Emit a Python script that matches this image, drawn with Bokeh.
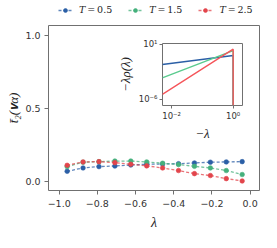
from bokeh.plotting import figure
from bokeh.models import (Legend, LegendItem, FixedTicker, Range1d)
from bokeh.layouts import column
from bokeh.embed import file_html
from bokeh.resources import INLINE

# ---- data (main panel) ----
lam = [-0.9583, -0.875, -0.7917, -0.7083, -0.625, -0.5417,
       -0.4583, -0.375, -0.2917, -0.2083, -0.125, -0.0417]
t2_T05 = [0.070, 0.093, 0.102, 0.106, 0.113, 0.118,
          0.120, 0.122, 0.127, 0.132, 0.134, 0.136]
t2_T15 = [0.102, 0.132, 0.136, 0.140, 0.140, 0.134,
          0.125, 0.116, 0.104, 0.093, 0.075, 0.048]
t2_T25 = [0.111, 0.134, 0.136, 0.129, 0.118, 0.107,
          0.093, 0.075, 0.054, 0.041, 0.020, 0.004]
series_labels = ["𝑇\u2009=\u20090.5", "𝑇\u2009=\u20091.5", "𝑇\u2009=\u20092.5"]
colors = ["#2b5fa6", "#45b07c", "#e2454c"]
inset_colors = ["#2b5fa6", "#5acb8e", "#f5555a"]

xtick_vals = [-1.0, -0.8, -0.6, -0.4, -0.2, 0.0]
xtick_labels = ["−1.0", "−0.8", "−0.6", "−0.4", "−0.2", "0.0"]
ytick_vals = [0.0, 0.5, 1.0]
ytick_labels = ["0.0", "0.5", "1.0"]

# ---- data (inset) ----
neg_lam = [0.005, 1.0, 1.0]
rho_T05 = [0.0257, 0.363, 1e-9]
rho_T15 = [5.2e-4, 1.48, 1e-9]
rho_T25 = [4.1e-6, 2.29, 1e-9]
inset_xtick_vals = [0.01, 1.0]
inset_xtick_labels = ["10⁻²", "10⁰"]
inset_ytick_vals = [1e-6, 10.0]
inset_ytick_labels = ["10⁻⁶", "10¹"]

TICK_COL = "#333333"
SPINE = "#707070"

# ---- legend strip (its own small figure, on top) ----
lg = figure(width=265, height=18, output_backend="svg", toolbar_location=None,
            x_range=Range1d(10, 11), y_range=Range1d(10, 11),
            x_axis_location=None, y_axis_location=None,
            min_border=0, outline_line_color=None)
lg.grid.visible = False
lg.background_fill_alpha = 0
lg.border_fill_alpha = 0

# ---- main panel ----
p = figure(width=265, height=214, output_backend="svg", toolbar_location=None,
           x_range=Range1d(-1.056, 0.049), y_range=Range1d(-0.061, 1.065),
           min_border_left=48, min_border_right=6, min_border_top=7,
           min_border_bottom=42)
p.grid.visible = False
p.outline_line_color = SPINE
p.outline_line_width = 1
p.background_fill_color = "white"

items = []
for ys, c, lab in zip([t2_T05, t2_T15, t2_T25], colors, series_labels):
    p.line(lam, ys, line_color=c, line_width=1.3, line_dash="3 2", line_alpha=0.75)
    p.scatter(lam, ys, size=4.6, fill_color=c, line_color=c, line_width=0.6)
    lr = lg.line(lam, ys, line_color=c, line_width=1.3, line_dash="3 2", line_alpha=0.75)
    sr = lg.scatter(lam, ys, size=4.6, fill_color=c, line_color=c, line_width=0.6)
    items.append(LegendItem(label=lab, renderers=[lr, sr]))

leg = Legend(items=items, orientation="horizontal", location=(10, 3),
             glyph_width=14, glyph_height=10, label_standoff=7, spacing=16,
             padding=0, margin=0, border_line_color=None, background_fill_alpha=0,
             label_text_font="DejaVu Serif", label_text_font_size="9.5px",
             label_text_color="#222222", label_height=10)
lg.add_layout(leg, "center")

for ax in (p.xaxis[0], p.yaxis[0]):
    ax.axis_line_color = None
    ax.major_tick_line_color = SPINE
    ax.major_tick_out = 4
    ax.major_tick_in = 0
    ax.minor_tick_line_color = None
    ax.major_label_text_font = "DejaVu Sans"
    ax.major_label_text_font_size = "9.5px"
    ax.major_label_text_color = TICK_COL
    ax.axis_label_text_font = "Liberation Serif"
    ax.axis_label_text_font_style = "italic"
    ax.axis_label_text_color = "#222222"

p.xaxis.ticker = FixedTicker(ticks=xtick_vals)
p.xaxis.major_label_overrides = dict(zip(xtick_vals, xtick_labels))
p.yaxis.ticker = FixedTicker(ticks=ytick_vals)
p.yaxis.major_label_overrides = dict(zip(ytick_vals, ytick_labels))
p.xaxis.axis_label = "λ"
p.xaxis.axis_label_text_font_size = "14px"
p.xaxis.axis_label_standoff = 5
p.xaxis.major_label_standoff = 5
p.yaxis.axis_label = "t̄₂(𝐯α)"
p.yaxis.axis_label_text_font_size = "13px"
p.yaxis.axis_label_standoff = 1
p.yaxis.major_label_standoff = 4

# ---- inset ----
ins = figure(width=134, height=106, output_backend="svg", toolbar_location=None,
             x_axis_type="log", y_axis_type="log",
             x_range=Range1d(0.00507, 2.01), y_range=Range1d(1.6e-7, 12.0),
             min_border_left=37, min_border_right=3, min_border_top=6,
             min_border_bottom=31)
ins.grid.visible = False
ins.outline_line_color = SPINE
ins.background_fill_color = "white"
ins.border_fill_color = "white"
for ys, c in zip([rho_T05, rho_T15, rho_T25], inset_colors):
    ins.line(neg_lam, ys, line_color=c, line_width=1.4)
for ax in (ins.xaxis[0], ins.yaxis[0]):
    ax.axis_line_color = None
    ax.major_tick_line_color = SPINE
    ax.major_tick_out = 3
    ax.major_tick_in = 0
    ax.minor_tick_line_color = None
    ax.major_label_text_font = "DejaVu Sans"
    ax.major_label_text_font_size = "8.5px"
    ax.major_label_text_color = TICK_COL
    ax.axis_label_text_font = "Liberation Serif"
    ax.axis_label_text_font_style = "italic"
    ax.axis_label_text_font_size = "13px"
    ax.axis_label_text_color = "#222222"
    ax.major_label_standoff = 2
ins.xaxis.ticker = FixedTicker(ticks=inset_xtick_vals)
ins.xaxis.major_label_overrides = dict(zip(inset_xtick_vals, inset_xtick_labels))
ins.yaxis.ticker = FixedTicker(ticks=inset_ytick_vals)
ins.yaxis.major_label_overrides = dict(zip(inset_ytick_vals, inset_ytick_labels))
ins.xaxis.axis_label = "−λ"
ins.xaxis.axis_label_standoff = 2
ins.yaxis.axis_label = "−λρ(λ)"
ins.yaxis.axis_label_standoff = 3

ins.styles = {"position": "absolute", "left": "114px", "top": "37px"}
lay = column(lg, p, ins)
lay.styles = {"position": "relative"}

open("out.html", "w").write(file_html(lay, INLINE))
